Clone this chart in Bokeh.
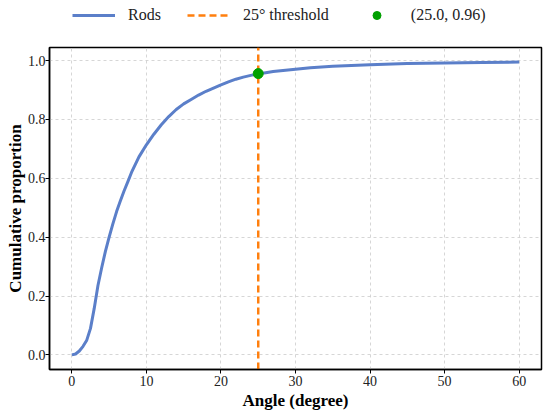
from bokeh.plotting import figure
from bokeh.layouts import column
from bokeh.models import Range1d, Legend, LegendItem, CustomJSTickFormatter
from bokeh.embed import file_html
from bokeh.resources import INLINE

# Data
angle = [0, 0.5, 1, 1.5, 2, 2.5, 3, 3.5, 4, 4.5, 5, 5.5, 6, 6.5, 7, 7.5, 8,
         9, 10, 11, 12, 13, 14, 15, 16, 17, 18, 19, 20, 21, 22, 23, 24, 25,
         26, 27, 28, 30, 32, 35, 40, 45, 50, 55, 60]
cum_prop = [0.0, 0.003, 0.013, 0.029, 0.05, 0.09, 0.158, 0.236, 0.296, 0.352,
            0.40, 0.445, 0.487, 0.523, 0.557, 0.588, 0.62, 0.673, 0.714,
            0.75, 0.782, 0.81, 0.834, 0.853, 0.868, 0.883, 0.896, 0.907,
            0.918, 0.928, 0.937, 0.944, 0.950, 0.955, 0.959, 0.963, 0.966,
            0.971, 0.976, 0.981, 0.986, 0.990, 0.992, 0.994, 0.995]
threshold_x = 25.0
point_x = [25.0]
point_y = [0.956]
series_label = "Rods"
threshold_label = "25° threshold"
point_label = "(25.0, 0.96)"
x_ticks = [0, 10, 20, 30, 40, 50, 60]
y_ticks = [0.0, 0.2, 0.4, 0.6, 0.8, 1.0]

FONT = "Liberation Serif"
BLUE = "#5b7fc9"
ORANGE = "#ff7f0e"
GREEN = "#00a000"

x_range = Range1d(-3, 63)
y_range = Range1d(-0.0497, 1.0447)

# ---- legend strip (its glyph renderers sit outside its visible range) ----
leg = figure(width=550, height=40, output_backend="svg", toolbar_location=None,
             x_range=Range1d(0, 1), y_range=Range1d(0, 1),
             min_border=0, x_axis_type=None, y_axis_type=None)
leg.outline_line_color = None
leg.grid.visible = False
hidden_x = [5, 6]
hidden_y = [5, 6]
l1 = leg.line(hidden_x, hidden_y, line_color=BLUE, line_width=3)
l2 = leg.line(hidden_x, hidden_y, line_color=ORANGE, line_width=2.5,
              line_dash="7 4")
l3 = leg.scatter(hidden_x, hidden_y, size=6, fill_color=GREEN,
                 line_color=GREEN)
legend = Legend(items=[LegendItem(label=series_label, renderers=[l1]),
                       LegendItem(label=threshold_label, renderers=[l2]),
                       LegendItem(label=point_label, renderers=[l3])],
                orientation="horizontal",
                location=(18, 10),
                border_line_alpha=0, background_fill_alpha=0,
                label_text_font=FONT, label_text_font_size="16px",
                label_text_color="#222222",
                glyph_width=43, glyph_height=20, label_height=20,
                label_standoff=13, spacing=26, padding=5, margin=0)
leg.add_layout(legend, "center")

# ---- main chart ----
p = figure(width=550, height=374, output_backend="svg", toolbar_location=None,
           x_range=x_range, y_range=y_range,
           min_border_left=49, min_border_right=9, min_border_top=7,
           min_border_bottom=45)

p.xaxis.ticker = x_ticks
p.yaxis.ticker = y_ticks
p.yaxis.formatter = CustomJSTickFormatter(code="return tick.toFixed(1);")

for ax in (p.xaxis[0], p.yaxis[0]):
    ax.major_tick_in = 0
    ax.major_tick_out = 4
    ax.minor_tick_in = 0
    ax.minor_tick_out = 0
    ax.axis_line_color = "black"
    ax.axis_line_width = 1.5
    ax.major_tick_line_color = "black"
    ax.major_tick_line_width = 1
    ax.major_label_text_font = FONT
    ax.major_label_text_font_size = "14px"
    ax.major_label_text_color = "#222222"
    ax.axis_label_text_font = FONT
    ax.axis_label_text_font_size = "17px"
    ax.axis_label_text_font_style = "bold"
    ax.axis_label_text_color = "black"
    ax.major_label_standoff = 2
    ax.axis_label_standoff = 2

p.yaxis.major_label_standoff = 0
p.yaxis.axis_label_standoff = 0

p.xaxis.axis_label = "Angle (degree)"
p.yaxis.axis_label = "Cumulative proportion"

p.outline_line_color = "black"
p.outline_line_width = 1.5
p.outline_line_alpha = 1.0

p.xgrid.grid_line_color = "#cccccc"
p.ygrid.grid_line_color = "#cccccc"
p.xgrid.grid_line_dash = "3 3"
p.ygrid.grid_line_dash = "3 3"
p.xgrid.grid_line_width = 0.8
p.ygrid.grid_line_width = 0.8

p.line(angle, cum_prop, line_color=BLUE, line_width=3, line_join="round")
p.line([threshold_x, threshold_x], [y_range.start, y_range.end],
       line_color=ORANGE, line_width=2.5, line_dash="7 4")
p.scatter(point_x, point_y, size=10, fill_color=GREEN, line_color=GREEN)

layout = column(leg, p, spacing=0)
open("out.html", "w").write(file_html(layout, INLINE))
